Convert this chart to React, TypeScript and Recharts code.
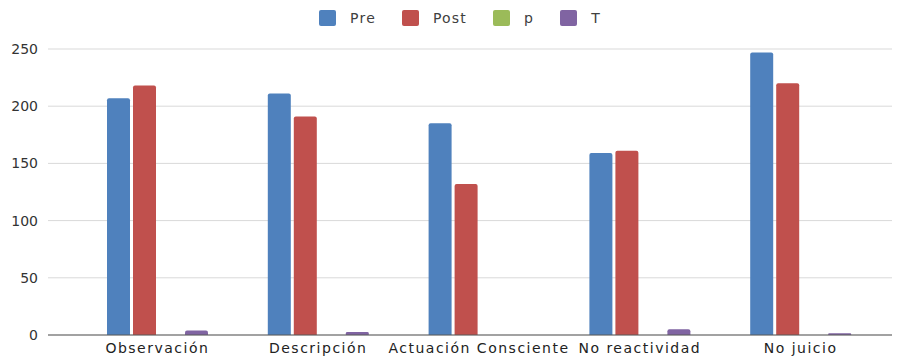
import React from 'react';
import { BarChart, Bar, XAxis, YAxis, CartesianGrid, Legend } from 'recharts';

const categories = ['Observación', 'Descripción', 'Actuación Consciente', 'No reactividad', 'No juicio'];
const preValues = [207, 211, 185, 159, 247];
const postValues = [218, 191, 132, 161, 220];
const pValues = [0.04, 0.03, 0.01, 0.05, 0.02];
const tValues = [4, 2.6, 0, 5, 1.5];
const yTicks = [0, 50, 100, 150, 200, 250];

const SERIES = [
  { key: 'Pre', color: '#4F81BD' },
  { key: 'Post', color: '#C0504D' },
  { key: 'p', color: '#9BBB59' },
  { key: 'T', color: '#8064A2' },
];

const data = categories.map((name, i) => ({
  name,
  Pre: preValues[i],
  Post: postValues[i],
  p: pValues[i],
  T: tValues[i],
}));

const FONT = '"DejaVu Sans", sans-serif';

const LegendContent = () => (
  <div
    style={{
      display: 'flex',
      justifyContent: 'center',
      alignItems: 'center',
      height: 20,
      paddingLeft: 19,
      fontFamily: FONT,
      fontSize: 14,
      letterSpacing: 1.2,
      color: '#404040',
    }}
  >
    {SERIES.map((s, i) => (
      <div key={s.key} style={{ display: 'flex', alignItems: 'center' }}>
        <span
          style={{
            display: 'inline-block',
            width: 17,
            height: 16,
            background: s.color,
            borderRadius: 2,
            marginRight: 14,
          }}
        />
        <span style={{ marginRight: i < SERIES.length - 1 ? 26 : 0 }}>{s.key}</span>
      </div>
    ))}
  </div>
);

const App: React.FC = () => {
  return (
    <BarChart
      width={892}
      height={353}
      data={data}
      margin={{ top: 21, right: 7, bottom: 0, left: 0 }}
      barSize={23}
      barGap={3}
    >
      <CartesianGrid vertical={false} stroke="#D9D9D9" />
      <Legend verticalAlign="top" wrapperStyle={{ top: 0 }} content={<LegendContent />} />
      <XAxis
        dataKey="name"
        height={26}
        padding={{ left: 29, right: 12 }}
        tickLine={false}
        axisLine={{ stroke: '#595959' }}
        tick={{ fill: '#222', fontSize: 14, fontFamily: FONT, letterSpacing: 1.5 }}
        interval={0}
      />
      <YAxis
        width={40}
        domain={[0, 250]}
        ticks={yTicks}
        axisLine={false}
        tickLine={false}
        tickMargin={4}
        tick={{ fill: '#333', fontSize: 14, fontFamily: FONT }}
      />
      {SERIES.map((s) => (
        <Bar key={s.key} dataKey={s.key} fill={s.color} radius={[2, 2, 0, 0]} isAnimationActive={false} />
      ))}
    </BarChart>
  );
};

export default App;
